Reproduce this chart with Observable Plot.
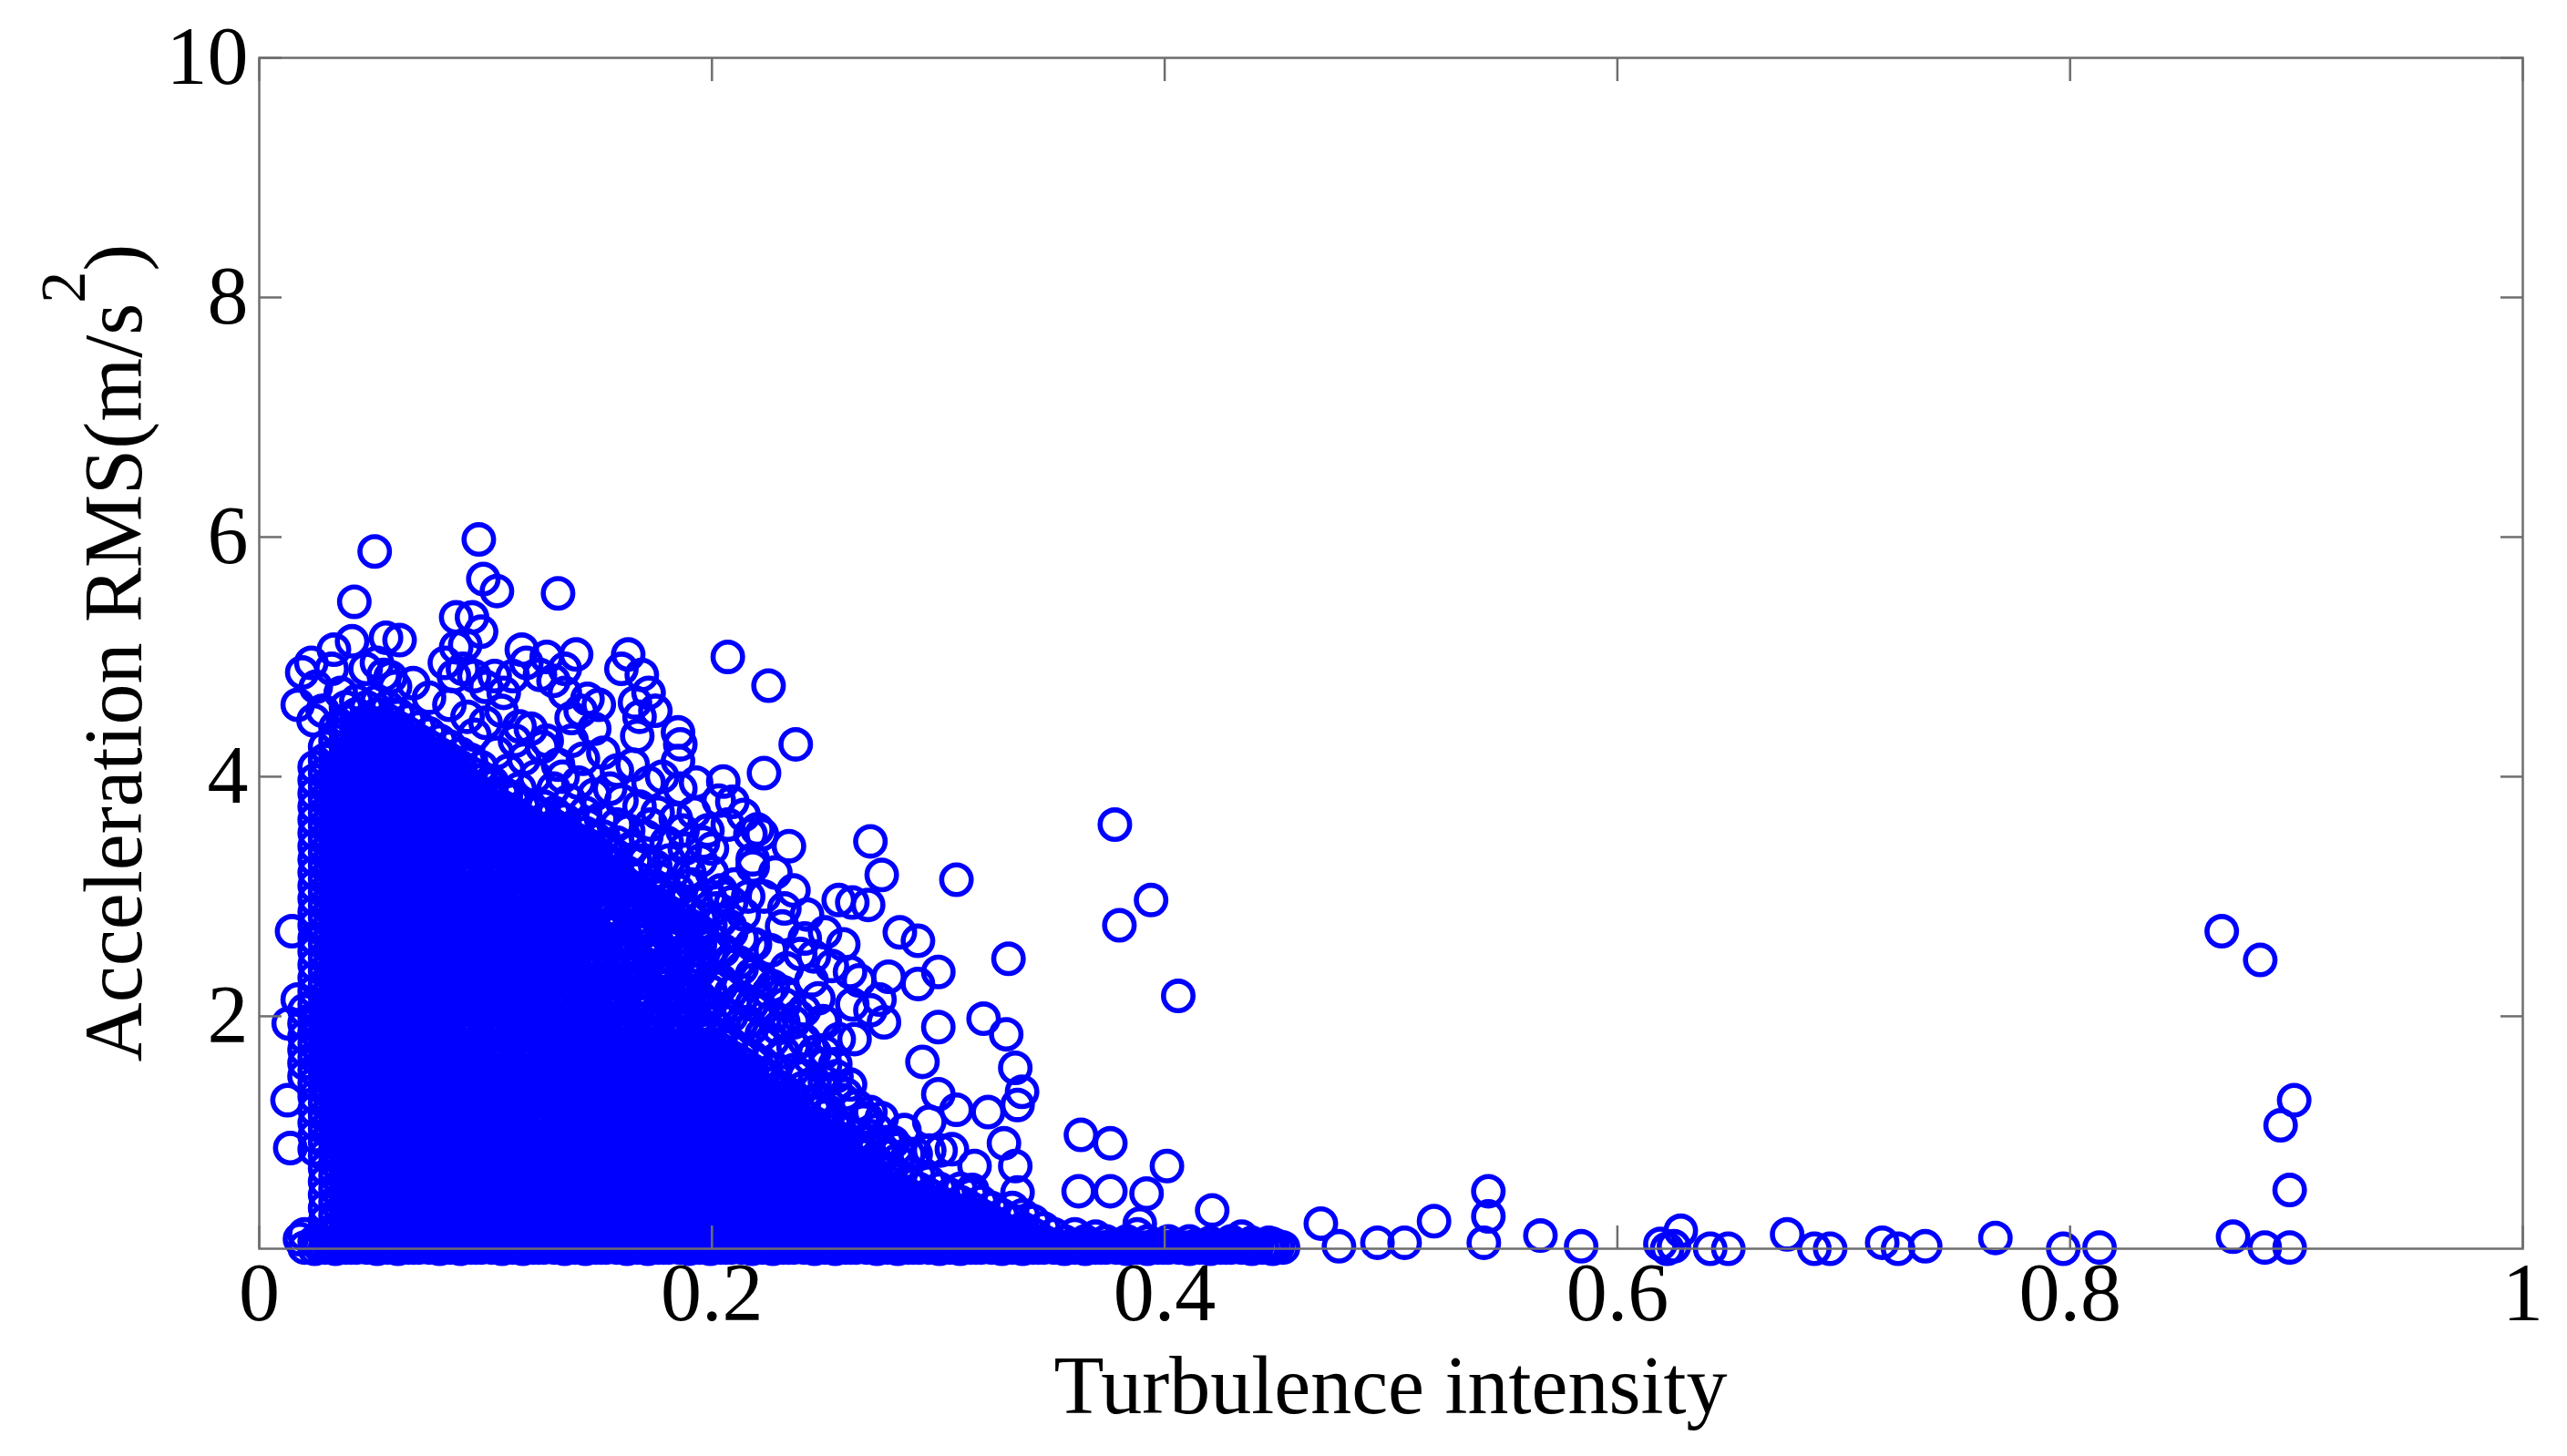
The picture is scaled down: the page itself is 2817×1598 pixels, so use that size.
<!DOCTYPE html>
<html><head><meta charset="utf-8">
<script src="https://cdn.jsdelivr.net/npm/d3@7"></script>
<script src="https://cdn.jsdelivr.net/npm/@observablehq/plot@0.6"></script>
<style>html,body{margin:0;padding:0;background:#fff;} svg{display:block;}</style>
</head><body><div id="chart"></div>
<script>
const xTicks = [0, 0.2, 0.4, 0.6, 0.8, 1];
const xTickLabels = ["0", "0.2", "0.4", "0.6", "0.8", "1"];
const yTicks = [2, 4, 6, 8, 10];
const yTickLabels = ["2", "4", "6", "8", "10"];
const xLabel = "Turbulence intensity";
const yLabel = ["Acceleration RMS(m/s", "2", ")"];

// dense cloud, read column by column: [turbulence intensity, [RMS values]]
const cloud = [
  [0.020,[0.07,0.18,1.5,1.61,1.72,1.83,1.94,2.05]],
  [0.0245,[0.12,0.89,1.0,1.11,1.22,1.33,1.44,1.55,1.66,1.77,1.88,1.99,2.1,2.21,2.32,2.43,2.54,2.65,2.76,2.87,2.98,3.09,3.2,3.31,3.42,3.53,3.64,3.75,3.86,3.97,4.08]],
  [0.0291,[0.07,0.18,0.29,0.4,0.51,0.62,0.73,0.84,0.95,1.06,1.17,1.28,1.39,1.5,1.61,1.72,1.83,1.94,2.05,2.16,2.27,2.38,2.49,2.6,2.71,2.82,2.93,3.04,3.15,3.26,3.37,3.48,3.59,3.7,3.81,3.92,4.03,4.14,4.25]],
  [0.0337,[0.12,0.23,0.34,0.45,0.56,0.67,0.78,0.89,1.0,1.11,1.22,1.33,1.44,1.55,1.66,1.77,1.88,1.99,2.1,2.21,2.32,2.43,2.54,2.65,2.76,2.87,2.98,3.09,3.2,3.31,3.42,3.53,3.64,3.75,3.86,3.97,4.08,4.19,4.3,4.41]],
  [0.0383,[0.07,0.18,0.29,0.4,0.51,0.62,0.73,0.84,0.95,1.06,1.17,1.28,1.39,1.5,1.61,1.72,1.83,1.94,2.05,2.16,2.27,2.38,2.49,2.6,2.71,2.82,2.93,3.04,3.15,3.26,3.37,3.48,3.59,3.7,3.81,3.92,4.03,4.14,4.25,4.36,4.47,4.58]],
  [0.0429,[0.12,0.23,0.34,0.45,0.56,0.67,0.78,0.89,1.0,1.11,1.22,1.33,1.44,1.55,1.66,1.77,1.88,1.99,2.1,2.21,2.32,2.43,2.54,2.65,2.76,2.87,2.98,3.09,3.2,3.31,3.42,3.53,3.64,3.75,3.86,3.97,4.08,4.19,4.3,4.41,4.52,4.63]],
  [0.0475,[0.07,0.18,0.29,0.4,0.51,0.62,0.73,0.84,0.95,1.06,1.17,1.28,1.39,1.5,1.61,1.72,1.83,1.94,2.05,2.16,2.27,2.38,2.49,2.6,2.71,2.82,2.93,3.04,3.15,3.26,3.37,3.48,3.59,3.7,3.81,3.92,4.03,4.14,4.25,4.36,4.47,4.58]],
  [0.0521,[0.12,0.23,0.34,0.45,0.56,0.67,0.78,0.89,1.0,1.11,1.22,1.33,1.44,1.55,1.66,1.77,1.88,1.99,2.1,2.21,2.32,2.43,2.54,2.65,2.76,2.87,2.98,3.09,3.2,3.31,3.42,3.53,3.64,3.75,3.86,3.97,4.08,4.19,4.3,4.41,4.52,4.63]],
  [0.0567,[0.07,0.18,0.29,0.4,0.51,0.62,0.73,0.84,0.95,1.06,1.17,1.28,1.39,1.5,1.61,1.72,1.83,1.94,2.05,2.16,2.27,2.38,2.49,2.6,2.71,2.82,2.93,3.04,3.15,3.26,3.37,3.48,3.59,3.7,3.81,3.92,4.03,4.14,4.25,4.36,4.47,4.58]],
  [0.0613,[0.12,0.23,0.34,0.45,0.56,0.67,0.78,0.89,1.0,1.11,1.22,1.33,1.44,1.55,1.66,1.77,1.88,1.99,2.1,2.21,2.32,2.43,2.54,2.65,2.76,2.87,2.98,3.09,3.2,3.31,3.42,3.53,3.64,3.75,3.86,3.97,4.08,4.19,4.3,4.41,4.52]],
  [0.0659,[0.07,0.18,0.29,0.4,0.51,0.62,0.73,0.84,0.95,1.06,1.17,1.28,1.39,1.5,1.61,1.72,1.83,1.94,2.05,2.16,2.27,2.38,2.49,2.6,2.71,2.82,2.93,3.04,3.15,3.26,3.37,3.48,3.59,3.7,3.81,3.92,4.03,4.14,4.25,4.36,4.47]],
  [0.0705,[0.12,0.23,0.34,0.45,0.56,0.67,0.78,0.89,1.0,1.11,1.22,1.33,1.44,1.55,1.66,1.77,1.88,1.99,2.1,2.21,2.32,2.43,2.54,2.65,2.76,2.87,2.98,3.09,3.2,3.31,3.42,3.53,3.64,3.75,3.86,3.97,4.08,4.19,4.3,4.41]],
  [0.0751,[0.07,0.18,0.29,0.4,0.51,0.62,0.73,0.84,0.95,1.06,1.17,1.28,1.39,1.5,1.61,1.72,1.83,1.94,2.05,2.16,2.27,2.38,2.49,2.6,2.71,2.82,2.93,3.04,3.15,3.26,3.37,3.48,3.59,3.7,3.81,3.92,4.03,4.14,4.25,4.36]],
  [0.0797,[0.12,0.23,0.34,0.45,0.56,0.67,0.78,0.89,1.0,1.11,1.22,1.33,1.44,1.55,1.66,1.77,1.88,1.99,2.1,2.21,2.32,2.43,2.54,2.65,2.76,2.87,2.98,3.09,3.2,3.31,3.42,3.53,3.64,3.75,3.86,3.97,4.08,4.19,4.3]],
  [0.0843,[0.07,0.18,0.29,0.4,0.51,0.62,0.73,0.84,0.95,1.06,1.17,1.28,1.39,1.5,1.61,1.72,1.83,1.94,2.05,2.16,2.27,2.38,2.49,2.6,2.71,2.82,2.93,3.04,3.15,3.26,3.37,3.48,3.59,3.7,3.81,3.92,4.03,4.14,4.25]],
  [0.0889,[0.12,0.23,0.34,0.45,0.56,0.67,0.78,0.89,1.0,1.11,1.22,1.33,1.44,1.55,1.66,1.77,1.88,1.99,2.1,2.21,2.32,2.43,2.54,2.65,2.76,2.87,2.98,3.09,3.2,3.31,3.42,3.53,3.64,3.75,3.86,3.97,4.08,4.19]],
  [0.0935,[0.07,0.18,0.29,0.4,0.51,0.62,0.73,0.84,0.95,1.06,1.17,1.28,1.39,1.5,1.61,1.72,1.83,1.94,2.05,2.16,2.27,2.38,2.49,2.71,2.82,2.93,3.04,3.15,3.26,3.37,3.48,3.59,3.7,3.81,3.92,4.03,4.14]],
  [0.0981,[0.12,0.23,0.34,0.45,0.56,0.67,0.78,0.89,1.0,1.11,1.22,1.33,1.44,1.55,1.66,1.77,1.99,2.1,2.21,2.32,2.43,2.54,2.65,2.76,2.87,2.98,3.09,3.31,3.42,3.53,3.64,3.75,3.86,3.97,4.08]],
  [0.1027,[0.07,0.18,0.29,0.4,0.51,0.62,0.73,0.84,0.95,1.06,1.17,1.28,1.39,1.5,1.61,1.72,1.83,1.94,2.05,2.16,2.27,2.49,2.6,2.71,2.82,2.93,3.04,3.15,3.26,3.37,3.48,3.59,3.7,3.81,3.92]],
  [0.1073,[0.12,0.23,0.34,0.45,0.56,0.67,0.78,0.89,1.0,1.11,1.22,1.33,1.44,1.55,1.66,1.77,1.88,1.99,2.1,2.21,2.32,2.43,2.54,2.65,2.76,2.87,2.98,3.09,3.2,3.31,3.42,3.53,3.64,3.75,3.86]],
  [0.1119,[0.07,0.18,0.29,0.4,0.51,0.62,0.73,0.84,0.95,1.06,1.17,1.28,1.39,1.5,1.61,1.83,1.94,2.05,2.16,2.27,2.38,2.49,2.6,2.71,2.82,2.93,3.04,3.15,3.26,3.37,3.48,3.59,3.7,3.81]],
  [0.1165,[0.12,0.23,0.34,0.45,0.56,0.67,0.78,0.89,1.0,1.11,1.22,1.33,1.44,1.55,1.66,1.77,1.88,1.99,2.1,2.21,2.32,2.43,2.54,2.65,2.76,2.87,2.98,3.09,3.2,3.31,3.42,3.53,3.64,3.75]],
  [0.1211,[0.07,0.18,0.29,0.4,0.51,0.62,0.73,0.84,0.95,1.06,1.17,1.28,1.39,1.5,1.61,1.72,1.83,1.94,2.05,2.16,2.27,2.38,2.49,2.6,2.71,2.82,2.93,3.15,3.26,3.37,3.48,3.59,3.7]],
  [0.1257,[0.12,0.23,0.34,0.45,0.56,0.67,0.78,0.89,1.0,1.11,1.22,1.33,1.44,1.55,1.66,1.77,1.88,1.99,2.1,2.21,2.32,2.43,2.54,2.65,2.76,2.87,2.98,3.09,3.2,3.31,3.42,3.53,3.64,3.75]],
  [0.1303,[0.07,0.18,0.29,0.4,0.51,0.62,0.73,0.84,0.95,1.06,1.28,1.39,1.5,1.61,1.72,1.83,1.94,2.05,2.16,2.27,2.38,2.49,2.6,2.71,2.82,2.93,3.04,3.15,3.26,3.37,3.48,3.59,3.7]],
  [0.1349,[0.12,0.23,0.34,0.45,0.56,0.67,0.78,0.89,1.0,1.11,1.22,1.33,1.44,1.55,1.66,1.77,1.88,1.99,2.1,2.21,2.32,2.43,2.54,2.65,2.76,2.87,2.98,3.09,3.2,3.31,3.42,3.53,3.64]],
  [0.1395,[0.07,0.18,0.29,0.4,0.51,0.62,0.73,0.84,0.95,1.06,1.17,1.28,1.39,1.5,1.61,1.72,1.83,1.94,2.05,2.27,2.38,2.49,2.6,2.71,2.82,2.93,3.04,3.15,3.26,3.37,3.48,3.59]],
  [0.1441,[0.12,0.23,0.34,0.45,0.56,0.67,0.78,0.89,1.0,1.11,1.22,1.33,1.44,1.55,1.66,1.77,1.88,1.99,2.1,2.21,2.32,2.43,2.54,2.65,2.76,2.87,2.98,3.09,3.2,3.31,3.42,3.53]],
  [0.1487,[0.07,0.18,0.29,0.4,0.51,0.62,0.73,0.84,0.95,1.06,1.17,1.28,1.39,1.5,1.61,1.72,1.83,1.94,2.05,2.16,2.27,2.38,2.49,2.6,2.71,2.93,3.04,3.15,3.26,3.37,3.48]],
  [0.1533,[0.12,0.23,0.34,0.45,0.56,0.67,0.78,0.89,1.0,1.11,1.22,1.33,1.44,1.55,1.66,1.77,1.88,1.99,2.1,2.21,2.32,2.54,2.65,2.76,2.87,2.98,3.09,3.2,3.31,3.42]],
  [0.1579,[0.07,0.18,0.29,0.4,0.51,0.62,0.73,0.84,0.95,1.06,1.17,1.28,1.39,1.5,1.61,1.72,1.83,1.94,2.05,2.16,2.27,2.38,2.6,2.71,2.82,3.04,3.15,3.26]],
  [0.1625,[0.12,0.23,0.34,0.45,0.56,0.67,0.78,0.89,1.0,1.11,1.22,1.33,1.44,1.55,1.66,1.77,1.88,1.99,2.21,2.32,2.43,2.54,2.65,2.87,2.98,3.09,3.2]],
  [0.1671,[0.07,0.18,0.29,0.4,0.51,0.62,0.73,0.84,0.95,1.06,1.17,1.28,1.39,1.5,1.61,1.72,1.83,2.05,2.16,2.27,2.38,2.49,2.71,2.82,2.93,3.04,3.15]],
  [0.1717,[0.12,0.23,0.34,0.45,0.56,0.67,0.78,0.89,1.0,1.11,1.22,1.33,1.44,1.55,1.66,1.77,1.88,1.99,2.1,2.21,2.43,2.54,2.65,2.76,2.87,2.98,3.09]],
  [0.1763,[0.07,0.18,0.29,0.4,0.51,0.62,0.73,0.84,0.95,1.06,1.17,1.28,1.39,1.5,1.61,1.72,1.83,1.94,2.05,2.27,2.38,2.49,2.6,2.82,2.93,3.04]],
  [0.1809,[0.12,0.23,0.34,0.45,0.56,0.67,0.78,0.89,1.0,1.11,1.22,1.33,1.44,1.55,1.66,1.77,1.88,2.1,2.21,2.32,2.43,2.65,2.76,2.87,2.98]],
  [0.1855,[0.07,0.18,0.29,0.4,0.51,0.62,0.73,0.84,0.95,1.06,1.17,1.28,1.39,1.5,1.61,1.72,1.83,1.94,2.05,2.16,2.27,2.49,2.6,2.71,2.82,2.93]],
  [0.1901,[0.12,0.23,0.34,0.45,0.56,0.67,0.78,0.89,1.0,1.11,1.22,1.33,1.44,1.55,1.66,1.77,1.99,2.1,2.21,2.32,2.43,2.54,2.76,2.87]],
  [0.1947,[0.07,0.18,0.29,0.4,0.51,0.62,0.73,0.84,0.95,1.06,1.17,1.28,1.39,1.5,1.61,1.72,1.83,1.94,2.05,2.16,2.38,2.49,2.6,2.71,2.82]],
  [0.1993,[0.12,0.23,0.34,0.45,0.56,0.67,0.78,0.89,1.0,1.11,1.22,1.33,1.44,1.55,1.66,1.77,1.88,1.99,2.1,2.21,2.32,2.54,2.65,2.76]],
  [0.2039,[0.07,0.18,0.29,0.4,0.51,0.62,0.73,0.84,0.95,1.06,1.17,1.28,1.39,1.5,1.61,1.72,1.83,2.05,2.3,2.55,2.8,3.05]],
  [0.2085,[0.12,0.23,0.34,0.45,0.56,0.67,0.78,0.89,1.0,1.11,1.22,1.33,1.44,1.55,1.66,1.77,2.0,2.2,2.45,2.7,2.95]],
  [0.2131,[0.07,0.18,0.29,0.4,0.51,0.62,0.73,0.84,0.95,1.06,1.17,1.28,1.39,1.5,1.61,1.72,1.95,2.15,2.4,2.65]],
  [0.2177,[0.12,0.23,0.34,0.45,0.56,0.67,0.78,0.89,1.0,1.11,1.22,1.33,1.44,1.55,1.66,1.9,2.1,2.35,2.6]],
  [0.2223,[0.07,0.18,0.29,0.4,0.51,0.62,0.73,0.84,0.95,1.06,1.17,1.28,1.39,1.5,1.61,1.85,2.05,2.3]],
  [0.2269,[0.12,0.23,0.34,0.45,0.56,0.67,0.78,0.89,1.0,1.11,1.22,1.33,1.44,1.55,1.8,2.0,2.25]],
  [0.2315,[0.07,0.18,0.29,0.4,0.51,0.62,0.73,0.84,0.95,1.06,1.17,1.28,1.39,1.7,1.95,2.2]],
  [0.2361,[0.12,0.23,0.34,0.45,0.56,0.67,0.78,0.89,1.0,1.11,1.22,1.33,1.55,1.75,1.95]],
  [0.2407,[0.07,0.18,0.29,0.4,0.51,0.62,0.73,0.84,0.95,1.06,1.17,1.28,1.5,1.8,2.05]],
  [0.2453,[0.12,0.23,0.34,0.45,0.56,0.67,0.78,0.89,1.0,1.11,1.22,1.45,1.7]],
  [0.2499,[0.07,0.18,0.29,0.4,0.51,0.62,0.73,0.84,0.95,1.06,1.17,1.45,1.7,1.95]],
  [0.2545,[0.12,0.23,0.34,0.45,0.56,0.67,0.78,0.89,1.0,1.11,1.4,1.6]],
  [0.2591,[0.07,0.18,0.29,0.4,0.51,0.62,0.73,0.84,0.95,1.06,1.35]],
  [0.2637,[0.12,0.23,0.34,0.45,0.56,0.67,0.78,0.89,1.0,1.25]],
  [0.2683,[0.07,0.18,0.29,0.4,0.51,0.62,0.73,0.84,0.95,1.15]],
  [0.2729,[0.12,0.23,0.34,0.45,0.56,0.67,0.78,1.05]],
  [0.2775,[0.07,0.18,0.29,0.4,0.51,0.62,0.73,0.95]],
  [0.2821,[0.12,0.23,0.34,0.45,0.56,0.67,0.9]],
  [0.2867,[0.07,0.18,0.29,0.4,0.51,0.62,0.85]],
  [0.2913,[0.12,0.23,0.34,0.45,0.56,0.67]],
  [0.2959,[0.07,0.18,0.29,0.4,0.51,0.62]],
  [0.3005,[0.12,0.23,0.34,0.45,0.56]],
  [0.3051,[0.07,0.18,0.29,0.4,0.51]],
  [0.3097,[0.12,0.23,0.34,0.45,0.56]],
  [0.3143,[0.07,0.18,0.29,0.4,0.51]],
  [0.3189,[0.12,0.23,0.34,0.45]],
  [0.3235,[0.07,0.18,0.29,0.4]],
  [0.3281,[0.12,0.23,0.34]],
  [0.3327,[0.07,0.18,0.29,0.4]],
  [0.3373,[0.12,0.23,0.34]],
  [0.3419,[0.07,0.18,0.29]],
  [0.3465,[0.12,0.23]],
  [0.3511,[0.07,0.18]],[0.3557,[0.12]],[0.3603,[0.07,0.18]],[0.3649,[0.12]],[0.3695,[0.07,0.16]],[0.3741,[0.12]],
  [0.3787,[0.07]],[0.3833,[0.12]],[0.3879,[0.07,0.18]],[0.3925,[0.12]],[0.3971,[0.07]],[0.4017,[0.12]],
  [0.4063,[0.07]],[0.4109,[0.12]],[0.4155,[0.07]],[0.4201,[0.11]],[0.4247,[0.07]],[0.4293,[0.12]],
  [0.4339,[0.07]],[0.4385,[0.11]],[0.4431,[0.07]],[0.4477,[0.1]],[0.4523,[0.07]]
];

// lowest readings along the floor of the cloud: [turbulence intensity, RMS]
const floorRow = [
  [0.0245,0.06],[0.0337,0.06],[0.0429,0.07],[0.0521,0.06],[0.0613,0.06],[0.0705,0.07],[0.0797,0.06],[0.0889,0.06],[0.0981,0.07],
  [0.1073,0.06],[0.1165,0.06],[0.1257,0.07],[0.1349,0.06],[0.1441,0.06],[0.1533,0.07],[0.1625,0.06],[0.1717,0.06],[0.1809,0.07],
  [0.1901,0.06],[0.1993,0.06],[0.2085,0.07],[0.2177,0.06],[0.2269,0.06],[0.2361,0.07],[0.2453,0.06],[0.2545,0.06],[0.2637,0.07],
  [0.2729,0.06],[0.2821,0.06],[0.2913,0.07],[0.3005,0.06],[0.3097,0.06],[0.3189,0.07],[0.3281,0.06],[0.3373,0.06],[0.3465,0.07],
  [0.3557,0.06],[0.3649,0.06],[0.3741,0.07],[0.3833,0.06],[0.3925,0.06],[0.4017,0.07],[0.4109,0.06],[0.4201,0.06],[0.4293,0.07],
  [0.4385,0.06],[0.4477,0.06],
  [0.0268,0.08],[0.0314,0.07],[0.036,0.08],[0.0406,0.07],[0.0452,0.08],[0.0498,0.07],[0.0544,0.08],[0.059,0.07],[0.0636,0.08],[0.0682,0.07],
  [0.0728,0.08],[0.0774,0.07],[0.082,0.08],[0.0866,0.07],[0.0912,0.08],[0.0958,0.07],[0.1004,0.08],[0.105,0.07],[0.1096,0.08],[0.1142,0.07],
  [0.1188,0.08],[0.1234,0.07],[0.128,0.08],[0.1326,0.07],[0.1372,0.08],[0.1418,0.07],[0.1464,0.08],[0.151,0.07],[0.1556,0.08],[0.1602,0.07],
  [0.1648,0.08],[0.1694,0.07],[0.174,0.08],[0.1786,0.07],[0.1832,0.08],[0.1878,0.07],[0.1924,0.08],[0.197,0.07],[0.2016,0.08],[0.2062,0.07],
  [0.2108,0.08],[0.2154,0.07],[0.22,0.08],[0.2246,0.07],[0.2292,0.08],[0.2338,0.07],[0.2384,0.08],[0.243,0.07],[0.2476,0.08],[0.2522,0.07],
  [0.2568,0.08],[0.2614,0.07],[0.266,0.08],[0.2706,0.07],[0.2752,0.08],[0.2798,0.07],[0.2844,0.08],[0.289,0.07],[0.2936,0.08],[0.2982,0.07],
  [0.3028,0.08],[0.3074,0.07],[0.312,0.08],[0.3166,0.07],[0.3212,0.08],[0.3258,0.07],[0.3304,0.08],[0.335,0.07],[0.3396,0.08],[0.3442,0.07],
  [0.3488,0.08],[0.3534,0.07],[0.358,0.08],[0.3626,0.07],[0.3672,0.08],[0.3718,0.07],[0.3764,0.08],[0.381,0.07],[0.3856,0.08],[0.3902,0.07],
  [0.3948,0.08],[0.3994,0.07],[0.404,0.08],[0.4086,0.07],[0.4132,0.08],[0.4178,0.07],[0.4224,0.08],[0.427,0.07],[0.4316,0.08],[0.4362,0.07],
  [0.4408,0.08],[0.4454,0.07],[0.45,0.08]
];

// individually readable circles: [turbulence intensity, RMS]
const scattered = [
  [0.051,5.88],[0.097,5.98],[0.042,5.46],[0.099,5.65],[0.105,5.55],[0.132,5.53],[0.094,5.33],[0.098,5.21],[0.087,5.33],[0.091,5.10],
  [0.087,5.08],[0.056,5.16],[0.062,5.14],[0.033,5.06],[0.041,5.13],[0.019,4.87],[0.023,4.95],[0.058,4.83],[0.075,4.66],[0.086,4.84],
  [0.095,4.84],[0.104,4.84],[0.112,4.84],[0.116,5.06],[0.127,5.0],[0.140,5.02],[0.163,5.02],[0.169,4.85],[0.166,4.62],[0.145,4.65],
  [0.138,4.49],[0.167,4.34],[0.185,4.37],[0.186,4.27],[0.185,4.13],[0.207,5.0],[0.205,3.96],[0.115,4.42],[0.024,4.47],
  [0.017,4.6],[0.025,4.75],[0.032,4.9],[0.036,4.7],[0.028,4.55],[0.047,4.9],[0.052,4.95],[0.068,4.78],[0.055,4.85],[0.06,4.75],
  [0.082,4.95],[0.09,4.9],[0.1,4.75],[0.108,4.7],[0.118,4.95],[0.124,4.85],[0.13,4.8],[0.135,4.9],[0.16,4.9],[0.172,4.7],[0.175,4.55],[0.168,4.5],
  [0.135,4.7],[0.142,4.55],[0.15,4.6],[0.148,4.4],[0.138,4.3],[0.152,4.2],[0.143,4.15],[0.132,4.1],
  [0.084,4.6],[0.092,4.5],[0.1,4.45],[0.107,4.55],[0.113,4.3],[0.12,4.4],[0.105,4.2],[0.117,4.15],[0.125,4.25],[0.095,4.35],[0.11,4.05],[0.122,4.0],
  [0.127,4.3],[0.134,4.0],[0.141,3.95],[0.148,3.85],[0.155,3.9],[0.13,3.9],[0.137,3.8],[0.144,3.7],[0.151,3.65],[0.115,3.9],[0.109,3.85],[0.103,3.95],
  [0.203,3.8],[0.207,3.6],[0.2,3.4],
  [0.158,4.05],[0.165,4.1],[0.172,3.95],[0.178,4.0],[0.186,3.9],[0.193,3.95],[0.16,3.8],[0.168,3.75],[0.176,3.7],[0.184,3.65],[0.192,3.7],[0.198,3.55],
  [0.163,3.55],[0.171,3.5],[0.18,3.45],[0.188,3.4],[0.195,3.3],[0.157,3.35],[0.166,3.3],[0.175,3.25],[0.183,3.2],[0.191,3.1],[0.199,3.0],
  [0.145,3.6],[0.152,3.5],[0.158,3.45],[0.164,3.4],[0.17,3.3],[0.177,3.15],[0.185,3.05],[0.193,2.95],[0.158,3.6],[0.173,3.6],
  [0.187,3.55],[0.196,3.45],[0.181,3.3],[0.19,3.2],
  [0.225,4.76],[0.237,4.27],[0.223,4.03],[0.209,3.79],[0.220,3.56],[0.234,3.42],[0.270,3.46],[0.378,3.60],[0.275,3.18],[0.308,3.14],
  [0.394,2.97],[0.380,2.76],[0.331,2.48],[0.406,2.17],
  [0.256,2.97],[0.262,2.95],[0.269,2.93],[0.283,2.70],[0.291,2.63],[0.300,2.37],[0.291,2.27],[0.278,2.33],[0.274,2.14],[0.276,1.95],
  [0.300,1.91],[0.320,1.98],[0.330,1.85],[0.293,1.62],[0.334,1.57],[0.337,1.37],[0.335,1.26],[0.300,1.35],[0.308,1.22],[0.296,1.12],
  [0.322,1.20],[0.329,0.94],[0.296,0.88],[0.301,0.88],[0.306,0.89],[0.363,1.01],[0.376,0.94],[0.401,0.75],[0.392,0.52],[0.316,0.75],
  [0.334,0.75],[0.315,0.55],[0.335,0.53],[0.362,0.54],[0.376,0.54],[0.389,0.27],
  [0.253,2.42],[0.261,2.37],[0.249,1.96],[0.256,1.81],[0.263,1.81],[0.261,1.43],[0.267,1.13],[0.276,0.84],[0.287,0.62],[0.223,3.0],[0.231,2.75],[0.239,2.52],
  [0.214,3.68],[0.217,3.52],[0.218,3.31],[0.222,3.52],
  [0.228,3.2],[0.236,3.05],[0.242,2.85],[0.25,2.7],[0.232,2.9],[0.241,2.65],[0.258,2.6],[0.265,2.3],[0.27,2.05],[0.262,2.1],
  [0.202,2.9],[0.208,2.75],[0.214,2.85],[0.219,2.6],[0.226,2.55],[0.233,2.4],[0.205,2.55],[0.212,2.45],[0.218,2.3],[0.225,2.2],[0.232,2.1],[0.238,2.0],
  [0.244,2.3],[0.247,2.15],[0.204,2.25],[0.21,2.1],[0.216,1.95],[0.222,1.85],[0.229,1.9],[0.236,1.75],[0.243,1.65],[0.25,1.6],[0.255,1.5],[0.24,1.4],
  [0.246,1.3],[0.252,1.2],[0.258,1.3],[0.264,1.25],[0.27,1.0],[0.268,0.9],[0.28,0.95],[0.285,1.05],[0.29,0.85],[0.282,0.8],
  [0.2,3.2],[0.21,3.1],[0.218,3.25],[0.205,3.0],[0.216,3.0],[0.245,2.5],[0.275,1.15],[0.27,1.2],
  [0.421,0.38],[0.434,0.16],[0.446,0.11],[0.469,0.27],[0.477,0.08],[0.494,0.11],[0.506,0.11],[0.519,0.29],[0.543,0.54],[0.543,0.33],
  [0.541,0.11],[0.566,0.17],[0.584,0.08],
  [0.622,0.06],[0.619,0.1],[0.625,0.08],[0.628,0.21],[0.641,0.06],[0.649,0.06],[0.675,0.18],[0.687,0.06],[0.694,0.06],[0.717,0.11],
  [0.724,0.06],[0.736,0.08],[0.767,0.15],[0.797,0.06],
  [0.813,0.07],[0.867,2.71],[0.884,2.47],[0.899,1.30],[0.893,1.09],[0.897,0.55],[0.872,0.16],[0.886,0.07],[0.897,0.07],
  [0.0145,2.71],[0.013,1.94],[0.0125,1.30],[0.0137,0.90],[0.017,2.14],[0.018,0.14]
];

const points = [];
cloud.forEach(([x, ys]) => ys.forEach(y => points.push({x, y})));
floorRow.forEach(([x, y]) => points.push({x, y}));
scattered.forEach(([x, y]) => points.push({x, y}));

const font = "'Liberation Serif', 'Times New Roman', serif";
const axisColor = "#6e6e6e";

const chart = Plot.plot({
  width: 2817,
  height: 1598,
  marginLeft: 284,
  marginRight: 49,
  marginTop: 63,
  marginBottom: 228,
  x: {domain: [0, 1]},
  y: {domain: [0.06, 10]},
  style: {fontFamily: font, fontSize: "90px", color: "#000", background: "#fff"},
  marks: [
    Plot.dot(points, {x: "x", y: "y", r: 16.2, stroke: "#0000ff", strokeWidth: 5.6, fill: "none"}),
    Plot.frame({stroke: axisColor, strokeWidth: 2.5}),
    Plot.axisX({ticks: xTicks, tickFormat: d => xTickLabels[xTicks.indexOf(d)], tickSize: -25, tickPadding: 40,
      stroke: axisColor, strokeWidth: 2.5, fill: "#000", fontSize: 90, label: null}),
    Plot.axisX({anchor: "top", ticks: xTicks, tickSize: -25, text: null, stroke: axisColor, strokeWidth: 2.5, label: null}),
    Plot.axisY({ticks: yTicks, tickFormat: d => yTickLabels[yTicks.indexOf(d)], tickSize: -25, tickPadding: 37,
      stroke: axisColor, strokeWidth: 2.5, fill: "#000", fontSize: 90, label: null}),
    Plot.axisY({anchor: "right", ticks: yTicks, tickSize: -25, text: null, stroke: axisColor, strokeWidth: 2.5, label: null})
  ]
});
document.getElementById("chart").appendChild(chart);

const xs = chart.scale("x"), ys = chart.scale("y");
const cx = (xs.range[0] + xs.range[1]) / 2;
const cy = (ys.range[0] + ys.range[1]) / 2;
const svg = d3.select(chart);
svg.append("text")
  .attr("x", cx).attr("y", ys.range[0] + 181)
  .attr("text-anchor", "middle").attr("fill", "#000")
  .style("font-family", font).style("font-size", "90px")
  .text(xLabel);
const yl = svg.append("text")
  .attr("transform", `translate(${xs.range[0] - 129},${cy}) rotate(-90)`)
  .attr("text-anchor", "middle").attr("fill", "#000")
  .style("font-family", font).style("font-size", "90px");
yl.append("tspan").text(yLabel[0]);
yl.append("tspan").attr("dy", -62).style("font-size", "70px").text(yLabel[1]);
yl.append("tspan").attr("dy", 62).text(yLabel[2]);
</script>
</body></html>
